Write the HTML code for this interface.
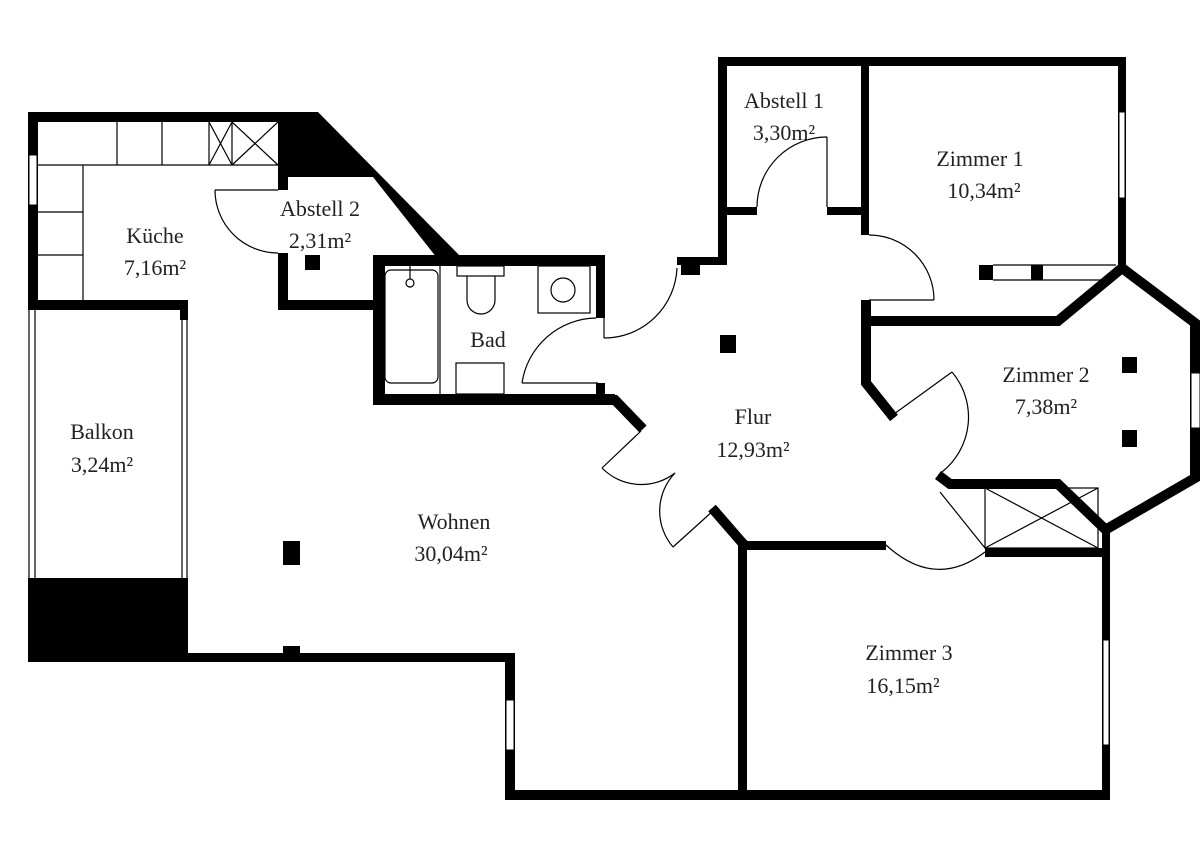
<!DOCTYPE html>
<html><head><meta charset="utf-8">
<style>
html,body{margin:0;padding:0;background:#fff;}
svg{display:block;}
text{font-family:"Liberation Serif",serif;font-size:22px;fill:#222;text-anchor:middle;}
</style></head><body>
<svg width="1200" height="848" viewBox="0 0 1200 848" xmlns="http://www.w3.org/2000/svg">
<g fill="#000">
<rect x="28" y="112" width="290" height="10"/>
<rect x="28" y="112" width="10" height="198"/>
<polygon points="278,112 318,112 462,258 437,258 373,177 278,177"/>
<rect x="278" y="175" width="10" height="15"/>
<rect x="278" y="253" width="10" height="57"/>
<rect x="278" y="300" width="100" height="10"/>
<rect x="305" y="255" width="15" height="15"/>
<rect x="28" y="300" width="160" height="10"/>
<rect x="180" y="305" width="8" height="15"/>
<rect x="373" y="255" width="12" height="150"/>
<rect x="373" y="255" width="230" height="11"/>
<rect x="596" y="255" width="9" height="63"/>
<rect x="596" y="383" width="9" height="22"/>
<rect x="373" y="394" width="242" height="11"/>
<rect x="28" y="578" width="160" height="84"/>
<rect x="188" y="653" width="327" height="9"/>
<rect x="283" y="646" width="17" height="8"/>
<rect x="283" y="541" width="17" height="24"/>
<rect x="505" y="653" width="10" height="147"/>
<rect x="505" y="790" width="605" height="10"/>
<rect x="738" y="540" width="9" height="260"/>
<rect x="738" y="541" width="148" height="9"/>
<rect x="1102" y="527" width="8" height="273"/>
<rect x="985" y="548" width="125" height="9"/>
<rect x="718" y="57" width="408" height="9"/>
<rect x="718" y="57" width="9" height="208"/>
<rect x="861" y="57" width="8" height="178"/>
<rect x="861" y="300" width="10" height="83"/>
<rect x="727" y="207" width="30" height="8"/>
<rect x="827" y="207" width="42" height="8"/>
<rect x="677" y="257" width="50" height="8"/>
<rect x="681" y="263" width="19" height="12"/>
<rect x="1118" y="57" width="8" height="213"/>
<rect x="720" y="335" width="16" height="18"/>
<rect x="1122" y="357" width="15" height="16"/>
<rect x="1122" y="430" width="15" height="17"/>
<rect x="979" y="265" width="14" height="15"/>
<rect x="1031" y="265" width="12" height="15"/>
</g>
<g fill="none" stroke="#000" stroke-width="10" stroke-linejoin="miter">
<polyline points="373,400 615,400 643,429"/>
<line x1="712" y1="508" x2="745" y2="546"/>
<polyline points="866,321 1058,321 1122,268"/>
<polyline points="866,321 866,383 894,418"/>
<polyline points="1122,268 1195,323 1195,478 1105,530"/>
<polyline points="938,475 950,484 1058,484 1106,530"/>
</g>
<g fill="#fff" stroke="#000" stroke-width="1">
<rect x="29" y="155" width="8" height="50"/>
<rect x="1119" y="112" width="6" height="86"/>
<rect x="1191" y="373" width="9" height="55"/>
<rect x="506" y="700" width="8" height="50"/>
<rect x="1103" y="640" width="6" height="105"/>
</g>
<g fill="none" stroke="#000" stroke-width="1.2">
<line x1="38" y1="165" x2="278" y2="165"/>
<line x1="83" y1="165" x2="83" y2="300"/>
<line x1="117" y1="122" x2="117" y2="165"/>
<line x1="162" y1="122" x2="162" y2="165"/>
<line x1="209" y1="122" x2="209" y2="165"/>
<line x1="232" y1="122" x2="232" y2="165"/>
<line x1="209" y1="122" x2="232" y2="165"/><line x1="232" y1="122" x2="209" y2="165"/>
<line x1="232" y1="122" x2="278" y2="165"/><line x1="278" y1="122" x2="232" y2="165"/>
<line x1="38" y1="212" x2="83" y2="212"/>
<line x1="38" y1="255" x2="83" y2="255"/>
<line x1="29" y1="310" x2="29" y2="578"/>
<line x1="35" y1="310" x2="35" y2="578"/>
<line x1="182" y1="318" x2="182" y2="578"/>
<line x1="187" y1="318" x2="187" y2="578"/>
<line x1="215" y1="190" x2="278" y2="190"/>
<path d="M215,190 A63,63 0 0 0 278,253"/>
<rect x="385" y="270" width="53" height="113" rx="6"/>
<circle cx="410" cy="283" r="4"/>
<line x1="410" y1="266" x2="410" y2="279"/>
<line x1="440" y1="266" x2="440" y2="394"/>
<rect x="457" y="266" width="47" height="10"/>
<path d="M467,276 L467,300 A14,14 0 0 0 495,300 L495,276"/>
<rect x="538" y="266" width="52" height="47"/>
<circle cx="563" cy="290" r="12"/>
<rect x="456" y="363" width="48" height="31"/>
<line x1="522" y1="383" x2="598" y2="383"/>
<path d="M522,383 A76,76 0 0 1 596,318"/>
<line x1="600" y1="266" x2="600" y2="318"/>
<line x1="604" y1="265" x2="604" y2="338"/>
<path d="M677,268 A73,73 0 0 1 604,338"/>
<line x1="827" y1="137" x2="827" y2="207"/>
<path d="M827,137 A70,70 0 0 0 757,207"/>
<line x1="869" y1="300" x2="934" y2="300"/>
<path d="M869,235 A65,65 0 0 1 934,300"/>
<line x1="993" y1="265" x2="1116" y2="265"/>
<line x1="993" y1="280" x2="1110" y2="280"/>
<line x1="894" y1="414" x2="952" y2="372"/>
<path d="M952,372 A70,70 0 0 1 942,472"/>
<line x1="641" y1="431" x2="602" y2="468"/>
<path d="M602,468 A55,55 0 0 0 675,473"/>
<line x1="714" y1="510" x2="673" y2="547"/>
<path d="M673,547 A55,55 0 0 1 675,473"/>
<rect x="985" y="488" width="113" height="60"/>
<line x1="985" y1="488" x2="1098" y2="548"/>
<line x1="1098" y1="488" x2="985" y2="548"/>
<line x1="940" y1="492" x2="985" y2="548"/>
<path d="M886,545 Q935,590 985,552"/>
</g>
<text x="155" y="243">Küche</text>
<text x="155" y="275">7,16m²</text>
<text x="320" y="216">Abstell 2</text>
<text x="320" y="248">2,31m²</text>
<text x="488" y="347">Bad</text>
<text x="784" y="108">Abstell 1</text>
<text x="784" y="140">3,30m²</text>
<text x="980" y="166">Zimmer 1</text>
<text x="984" y="198">10,34m²</text>
<text x="1046" y="382">Zimmer 2</text>
<text x="1046" y="414">7,38m²</text>
<text x="753" y="424">Flur</text>
<text x="753" y="457">12,93m²</text>
<text x="102" y="439">Balkon</text>
<text x="102" y="472">3,24m²</text>
<text x="454" y="529">Wohnen</text>
<text x="451" y="561">30,04m²</text>
<text x="909" y="660">Zimmer 3</text>
<text x="903" y="693">16,15m²</text>
</svg>
</body></html>
